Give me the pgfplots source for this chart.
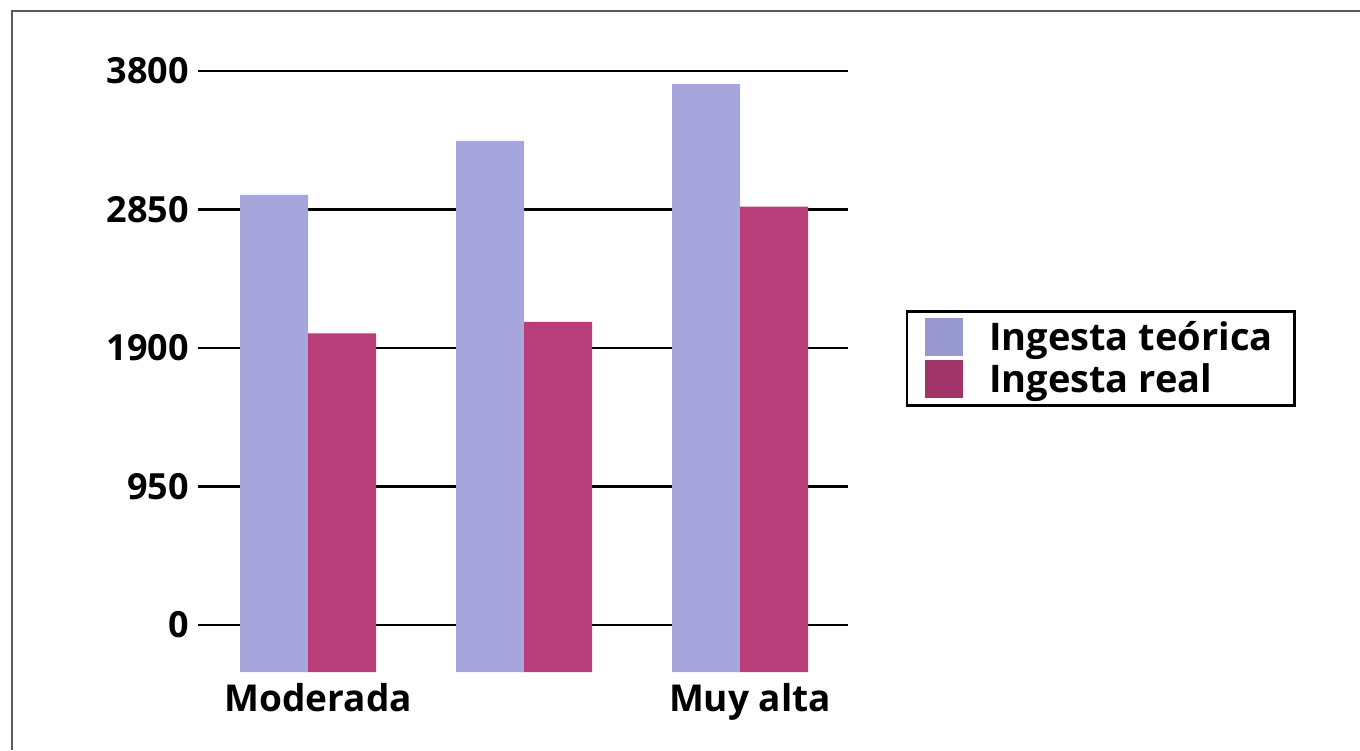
\documentclass[border=0pt]{standalone}
\usepackage{fontspec}
\setmainfont{Open Sans}
\usepackage{pgfplots}
\pgfplotsset{compat=1.18}
\definecolor{teo}{RGB}{166,166,220}
\definecolor{real}{RGB}{184,62,122}
\definecolor{teoLeg}{RGB}{152,152,208}
\definecolor{realLeg}{RGB}{160,52,104}
\definecolor{frame}{RGB}{90,90,90}
\begin{document}
\begin{tikzpicture}
\path[use as bounding box] (0,0) rectangle (680pt,375pt);
\draw[frame, line width=1.1pt] (6pt,0) -- (6pt,369.5pt) -- (680pt,369.5pt);
\begin{axis}[
  at={(99pt,39pt)}, anchor=south west,
  scale only axis, width=325pt, height=300.5pt,
  xmin=-0.51, xmax=2.5,
  ymin=0, ymax=4122,
  y filter/.expression={y+322},
  ytick={322,1272,2222,3172,4122},
  yticklabels={0,950,1900,2850,3800},
  xtick={0,1,2},
  xticklabels={Moderada,,Muy alta},
  axis line style={draw=none},
  tick style={draw=none},
  ymajorgrids,
  major grid style={black, line width=1.3pt},
  ybar, bar width=34pt,
  /pgf/number format/assume math mode=true,
  yticklabel style={font=\fontsize{18}{20}\selectfont\bfseries, xshift=-1pt},
  xticklabel style={font=\fontsize{18.5}{20}\selectfont\bfseries, yshift=2pt, xshift=5pt},
  legend style={at={(1.089,0.602)}, anchor=north west, draw=black, line width=1.2pt,
    font=\fontsize{19}{21}\selectfont\bfseries, inner xsep=9pt, inner ysep=3pt,
    row sep=1pt, /tikz/every odd column/.append style={column sep=11pt}},
  legend cell align=left,
]
\addplot[draw=none, fill=teo, bar shift=-17pt,
  legend image code/.code={\fill[teoLeg, line width=0pt] (0pt,-9.5pt) rectangle (19pt,9.5pt);}]
  coordinates {(0,2950) (1,3320) (2,3710)};
\addplot[draw=none, fill=real, bar shift=17pt,
  legend image code/.code={\fill[realLeg, line width=0pt] (0pt,-9.5pt) rectangle (19pt,9.5pt);}]
  coordinates {(0,2000) (1,2080) (2,2870)};
\legend{Ingesta teórica, Ingesta real}
\end{axis}
\end{tikzpicture}
\end{document}
